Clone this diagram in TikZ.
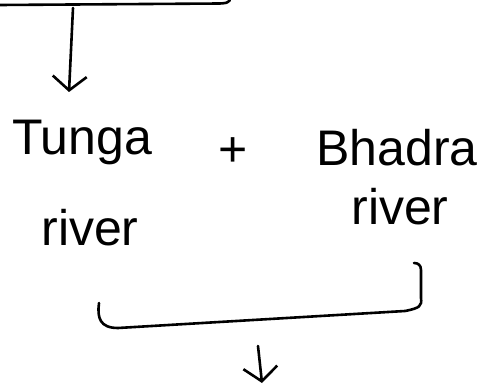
\documentclass[tikz,border=0pt]{standalone}
\usepackage{fontspec}
\setmainfont{Liberation Sans}
\usetikzlibrary{arrows.meta}
\begin{document}
\begin{tikzpicture}[x=1pt,y=1pt,
  ink/.style={line width=2.6pt,line cap=round,line join=round,black},
  barb/.style={ink,-{Straight Barb[length=14pt,width=34pt,line width=2.6pt]}},
  hand/.style={inner sep=0pt,font=\fontsize{50}{54}\selectfont}]
\useasboundingbox (0,0) rectangle (490,-387);
% top bracket stub
\draw[ink] (0,-5) -- (220,-3.5) .. controls (227,-3) .. (230,0);
\coordinate (topsrc) at (73,-8);
\coordinate (toptip) at (69,-92);
\draw[barb] (topsrc) -- (toptip);
% labels
\node[hand] (tunga) at (82,-142) {Tunga};
\node[hand] (tungariver) at (90,-228) {river};
\node[hand] (plus) at (233,-152) {+};
\node[hand] (bhadra) at (397,-148) {Bhadra};
\node[hand] (bhadrariver) at (400,-207) {river};
% bottom brace
\draw[ink] (99,-303) .. controls (97,-318) and (100,-328) .. (118,-328)
  -- (405,-311) .. controls (420,-308) and (422,-306) .. (421,-298)
  -- (421,-270) .. controls (421,-265) and (418,-263) .. (414,-263);
\coordinate (botsrc) at (258,-346);
\coordinate (bottip) at (262,-383);
\draw[barb] (botsrc) -- (bottip);
\end{tikzpicture}
\end{document}
